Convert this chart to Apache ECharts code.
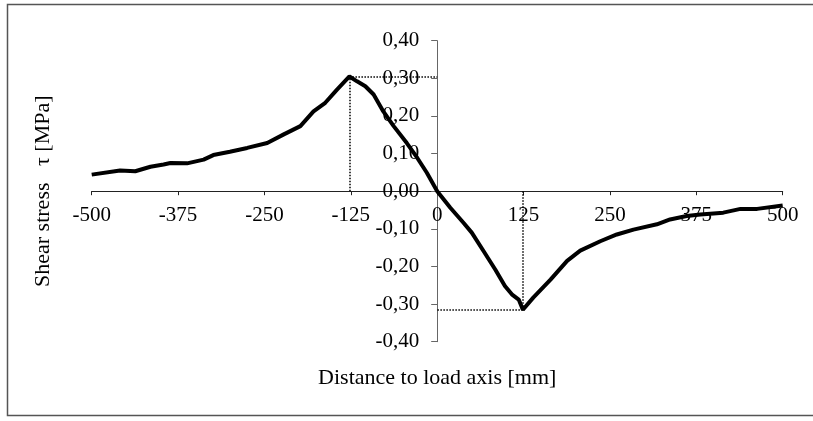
<!DOCTYPE html>
<html>
<head>
<meta charset="utf-8">
<script src="https://cdn.jsdelivr.net/npm/echarts@6/dist/echarts.min.js"></script>
<style>
  html, body { margin: 0; padding: 0; background: #fff; }
  #chart { width: 813px; height: 421px; }
</style>
</head>
<body>
<div id="chart"></div>
<script>
// Distance to load axis [mm]
const distance = [-500, -459, -437, -415, -396, -386, -362, -338, -324, -300, -275, -246, -222, -198, -179, -162, -145, -127, -116, -104, -92, -78, -63, -44, -29, -15, 0, 19, 38, 50, 67, 84, 98, 108, 118, 124, 139, 164, 188, 207, 236, 260, 284, 318, 337, 361, 381, 414, 439, 463, 500];
// Shear stress tau [MPa]
const shearStress = [0.044, 0.055, 0.053, 0.065, 0.071, 0.075, 0.074, 0.084, 0.096, 0.105, 0.115, 0.128, 0.151, 0.173, 0.212, 0.235, 0.270, 0.305, 0.292, 0.279, 0.257, 0.212, 0.173, 0.128, 0.089, 0.049, 0.000, -0.044, -0.084, -0.110, -0.159, -0.208, -0.252, -0.274, -0.288, -0.315, -0.283, -0.235, -0.185, -0.158, -0.133, -0.115, -0.102, -0.088, -0.075, -0.066, -0.062, -0.057, -0.047, -0.047, -0.038];
// peak markers (dotted guides)
const peakPos = [-127, 0.305];
const peakNeg = [124, -0.315];
const xTicks = [-500, -375, -250, -125, 0, 125, 250, 375, 500];
const yTicks = [-0.4, -0.3, -0.2, -0.1, 0, 0.1, 0.2, 0.3, 0.4];

const FONT = "'Liberation Serif', 'Times New Roman', serif";
const W = 813, H = 421;
const G = { left: 91.7, right: 30.3, top: 40.7, bottom: 79.3 };
const xMin = xTicks[0], xMax = xTicks[xTicks.length - 1];
const yMin = yTicks[0], yMax = yTicks[yTicks.length - 1];
const gw = W - G.left - G.right, gh = H - G.top - G.bottom;
// shift axes so they cross at zero (computed from axis ranges)
const yAxisOffset = -gw * (0 - xMin) / (xMax - xMin);
const xAxisOffset = -gh * (0 - yMin) / (yMax - yMin);

const chart = echarts.init(document.getElementById('chart'), null, { renderer: 'canvas' });
const pts = distance.map((d, i) => [d, shearStress[i]]);

chart.setOption({
  animation: false,
  backgroundColor: '#fff',
  grid: { left: G.left, right: G.right, top: G.top, bottom: G.bottom, containLabel: false, outerBoundsMode: 'none' },
  graphic: [{
    type: 'rect',
    shape: { x: 7.5, y: 4.5, width: 900, height: 411 },
    style: { fill: 'none', stroke: '#555', lineWidth: 1.5 },
    silent: true
  }],
  xAxis: {
    type: 'value',
    position: 'bottom',
    offset: xAxisOffset,
    min: xMin, max: xMax, interval: 125,
    axisLine: { onZero: false, lineStyle: { color: '#222', width: 1 } },
    axisTick: { show: true, length: 4, lineStyle: { color: '#222' } },
    splitLine: { show: false },
    axisLabel: { fontFamily: FONT, fontSize: 21, color: '#000', margin: 14, hideOverlap: false },
    name: 'Distance to load axis [mm]',
    nameLocation: 'middle',
    nameGap: 176,
    nameTextStyle: { fontFamily: FONT, fontSize: 22, color: '#000' }
  },
  yAxis: {
    type: 'value',
    position: 'left',
    offset: yAxisOffset,
    min: yMin, max: yMax, interval: 0.1,
    axisLine: { onZero: false, lineStyle: { color: '#666', width: 1 } },
    axisTick: { show: true, length: 6, lineStyle: { color: '#666' } },
    splitLine: { show: false },
    axisLabel: {
      fontFamily: FONT, fontSize: 21, color: '#000', margin: 18, hideOverlap: false,
      formatter: v => v.toFixed(2).replace('.', ',')
    },
    name: 'Shear stress   \u03c4 [MPa]',
    nameLocation: 'middle',
    nameRotate: 90,
    nameGap: 383,
    nameTextStyle: { fontFamily: FONT, fontSize: 22, color: '#000' }
  },
  series: [{
    type: 'line',
    data: pts,
    showSymbol: false,
    symbol: 'none',
    lineStyle: { color: '#000', width: 4 },
    z: 3,
    markLine: {
      silent: true,
      symbol: 'none',
      label: { show: false },
      lineStyle: { color: '#000', type: 'dotted', width: 1.5 },
      data: [
        [{ coord: [peakPos[0], 0] }, { coord: [peakPos[0], peakPos[1]] }],
        [{ coord: [peakPos[0], peakPos[1]] }, { coord: [0, peakPos[1]] }],
        [{ coord: [peakNeg[0], 0] }, { coord: [peakNeg[0], peakNeg[1]] }],
        [{ coord: [peakNeg[0], peakNeg[1]] }, { coord: [0, peakNeg[1]] }]
      ]
    }
  }]
});
</script>
</body>
</html>
